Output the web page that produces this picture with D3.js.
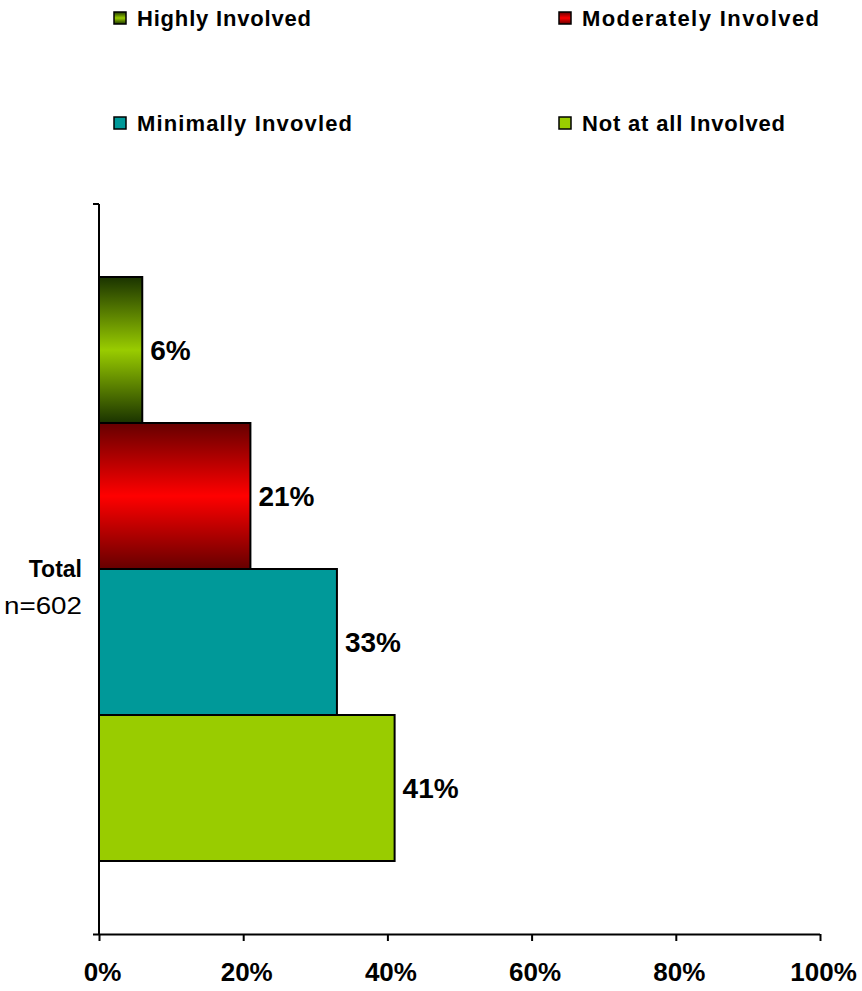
<!DOCTYPE html>
<html><head><meta charset="utf-8">
<script src="https://cdn.jsdelivr.net/npm/d3@7"></script>
<style>body{margin:0;background:#fff}svg{display:block}text{font-family:"Liberation Sans",Arial,sans-serif}</style>
</head><body><svg id="c" width="862" height="991"></svg>
<script>
const categories = ["Total"];
const seriesNames = ["Highly Involved","Moderately Involved","Minimally Invovled","Not at all Involved"];
const seriesValues = [6, 21, 33, 41];
const seriesColors = ["#99cc00","#ff0000","#009999","#99cc00"];
const seriesDark = ["#1a3300","#660000",null,null];
const xTicks = [0,20,40,60,80,100];
const sampleLabel = "n=602";

const svg = d3.select("#c");
const m = {left:99, right:820, top:204, bottom:934};
const x = d3.scaleLinear().domain([0,100]).range([m.left,m.right]);
const yCat = d3.scaleBand().domain(categories).range([m.top,m.bottom]).paddingInner(0).paddingOuter(0);
const ySer = d3.scaleBand().domain(seriesNames).range([0,yCat.bandwidth()]).paddingOuter(0.5).paddingInner(0);

const defs = svg.append("defs");
seriesNames.forEach((s,i)=>{
  if(!seriesDark[i]) return;
  const g = defs.append("linearGradient").attr("id","g"+i).attr("x1",0).attr("y1",0).attr("x2",0).attr("y2",1);
  g.append("stop").attr("offset","0%").attr("stop-color",seriesDark[i]);
  g.append("stop").attr("offset","50%").attr("stop-color",seriesColors[i]);
  g.append("stop").attr("offset","100%").attr("stop-color",seriesDark[i]);
});
const fillOf = i => seriesDark[i] ? `url(#g${i})` : seriesColors[i];

// bars
const grp = svg.append("g").attr("transform",`translate(0,${yCat(categories[0])})`);
grp.selectAll("rect").data(seriesValues).join("rect")
  .attr("x", x(0)).attr("y",(d,i)=>ySer(seriesNames[i]))
  .attr("width", d=>x(d)-x(0)).attr("height", ySer.bandwidth())
  .attr("fill",(d,i)=>fillOf(i)).attr("stroke","#000").attr("stroke-width",2);
grp.selectAll("text.v").data(seriesValues).join("text").attr("class","v")
  .attr("x", d=>x(d)+8).attr("y",(d,i)=>ySer(seriesNames[i])+ySer.bandwidth()/2+10)
  .attr("font-size",28).attr("font-weight","bold")
  .text(d=>d+"%");

// x axis
const xa = svg.append("g").attr("transform",`translate(0,${m.bottom})`)
  .call(d3.axisBottom(x).tickValues(xTicks).tickSize(7).tickSizeOuter(0).tickFormat(d=>d+"%"));
xa.select(".domain").attr("d",`M${m.left-6},0.5H${m.right}`).attr("stroke","#000").attr("stroke-width",2);
xa.selectAll(".tick line").attr("stroke","#000").attr("stroke-width",2);
xa.selectAll(".tick text").attr("font-size",26).attr("font-weight","bold").attr("fill","#000")
  .attr("font-family","'Liberation Sans',Arial,sans-serif").attr("dy",0).attr("y",47).attr("dx",3);

// y axis
const ya = svg.append("g").attr("transform",`translate(${m.left},0)`);
ya.append("line").attr("x1",0).attr("x2",0).attr("y1",m.top).attr("y2",m.bottom).attr("stroke","#000").attr("stroke-width",2);
ya.append("line").attr("x1",-6).attr("x2",0).attr("y1",m.top).attr("y2",m.top).attr("stroke","#000").attr("stroke-width",2);
const cy = yCat(categories[0])+yCat.bandwidth()/2;
svg.append("text").attr("x",82).attr("y",cy+8).attr("text-anchor","end").attr("font-size",23).attr("font-weight","bold").text(categories[0]);
svg.append("text").attr("x",82).attr("y",cy+45).attr("text-anchor","end").attr("font-size",23)
  .attr("textLength",78).attr("lengthAdjust","spacingAndGlyphs").text(sampleLabel);

// legend
const legPos = [[114,18],[559,18],[114,123],[559,123]];
const legW = [174,237,215,203];
const lg = svg.append("g");
seriesNames.forEach((s,i)=>{
  const [lx,ly]=legPos[i];
  lg.append("rect").attr("x",lx).attr("y",ly-6).attr("width",12).attr("height",12)
    .attr("fill",fillOf(i)).attr("stroke","#000").attr("stroke-width",1.5);
  lg.append("text").attr("x",lx+23).attr("y",ly+8).attr("font-size",22).attr("font-weight","bold")
    .attr("textLength",legW[i]).attr("lengthAdjust","spacing").text(s);
});
</script></body></html>
